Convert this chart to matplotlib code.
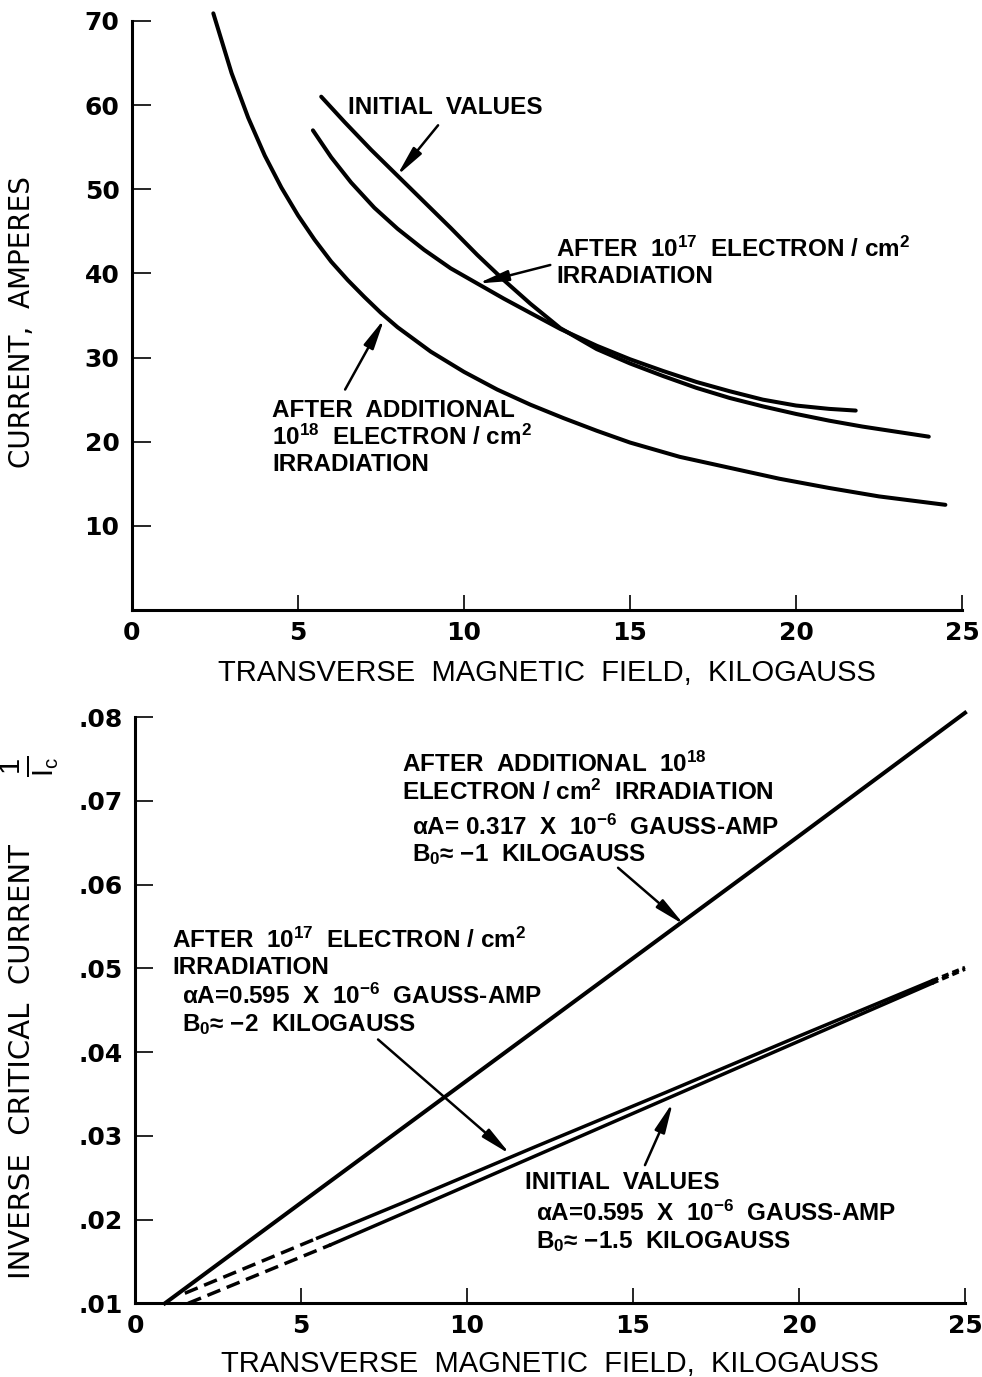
import matplotlib
matplotlib.use('Agg')
import matplotlib.pyplot as plt
from matplotlib import font_manager

# Шрифты: Liberation для надписей, жирный DejaVu для чисел на осях
LABEL_FONT = 'Liberation Sans'
plt.rcParams['font.family'] = [LABEL_FONT, 'DejaVu Sans']
plt.rcParams['mathtext.fontset'] = 'custom'
plt.rcParams['mathtext.rm'] = LABEL_FONT
plt.rcParams['mathtext.it'] = LABEL_FONT
plt.rcParams['mathtext.bf'] = LABEL_FONT + ':bold'
plt.rcParams['mathtext.default'] = 'regular'

# --- Верхний график: ток от поля ---
field_add18 = [2.45, 3.0, 3.5, 4.0, 4.5, 5.0, 5.5, 6.0, 6.5, 7.0, 7.5, 8.0, 9.0, 10.0, 11.0, 12.0,
               13.0, 14.0, 15.0, 16.5, 18.0, 19.5, 21.0, 22.5, 24.5]
current_add18 = [70.9, 63.8, 58.5, 54.0, 50.2, 46.9, 44.0, 41.4, 39.2, 37.2, 35.3, 33.6, 30.7, 28.3, 26.2, 24.4,
                 22.8, 21.3, 19.9, 18.2, 16.9, 15.6, 14.5, 13.5, 12.5]

field_init = [5.7, 6.4, 7.2, 8.0, 8.8, 9.6, 10.4, 11.2, 12.0, 12.9, 14.0, 15.0, 16.0, 17.0, 18.0, 19.0, 20.0, 21.0, 22.0, 23.0, 24.0]
current_init = [61.0, 58.0, 54.7, 51.6, 48.5, 45.4, 42.2, 39.2, 36.4, 33.5, 31.0, 29.3, 27.8, 26.4, 25.2, 24.2, 23.3, 22.5, 21.8, 21.2, 20.6]

field_e17 = [5.45, 6.0, 6.6, 7.3, 8.0, 8.8, 9.6, 10.4, 11.2, 12.0, 12.9, 14.0, 15.0, 16.0, 17.0, 18.0, 19.0, 20.0, 21.0, 21.8]
current_e17 = [57.0, 53.8, 50.8, 47.8, 45.3, 42.8, 40.6, 38.8, 37.0, 35.3, 33.4, 31.4, 29.8, 28.4, 27.1, 26.0, 25.0, 24.3, 23.9, 23.7]

top_xticks = [0, 5, 10, 15, 20, 25]
top_yticks = [10, 20, 30, 40, 50, 60, 70]

# --- Нижний график: обратный критический ток ---
inv_x_add18 = [0.9, 5.0, 10.0, 15.0, 20.0, 25.0]
inv_y_add18 = [0.0100, 0.0220, 0.0366, 0.0512, 0.0658, 0.0805]

inv_x_e17_dash = [1.5, 5.5]
inv_y_e17_dash = [0.0112, 0.0178]
inv_x_e17 = [5.5, 8.0, 12.0, 16.0, 20.0, 24.0]
inv_y_e17 = [0.0178, 0.0219, 0.0286, 0.0352, 0.0419, 0.0485]
inv_x_e17_tail = [24.0, 25.0]
inv_y_e17_tail = [0.0485, 0.0501]

inv_x_init_dash = [1.6, 5.9]
inv_y_init_dash = [0.0100, 0.0170]
inv_x_init = [5.9, 8.0, 12.0, 16.0, 20.0, 24.0]
inv_y_init = [0.0170, 0.0206, 0.0275, 0.0344, 0.0413, 0.0482]
inv_x_init_tail = [24.0, 25.0]
inv_y_init_tail = [0.0482, 0.0499]

bot_xticks = [0, 5, 10, 15, 20, 25]
bot_yticks = [0.01, 0.02, 0.03, 0.04, 0.05, 0.06, 0.07, 0.08]
bot_yticklabels = ['.01', '.02', '.03', '.04', '.05', '.06', '.07', '.08']

XLABEL = 'TRANSVERSE  MAGNETIC  FIELD,  KILOGAUSS'
TXT = dict(fontsize=17.5, fontweight='bold', va='center', ha='left', linespacing=1.15)
ARROW = dict(arrowstyle='-|>,head_length=1.8,head_width=0.32', color='black',
             lw=1.8, mutation_scale=10, shrinkA=0, shrinkB=0)
tick_font = dict(family=['DejaVu Sans'], weight='bold', size=18)


def style_axes(ax, ylen):
    for side in ('top', 'right'):
        ax.spines[side].set_visible(False)
    for side in ('left', 'bottom'):
        ax.spines[side].set_linewidth(2.2)
    ax.tick_params(axis='x', direction='in', length=11, width=1.2, pad=8)
    ax.tick_params(axis='y', direction='in', length=ylen, width=1.2, pad=9)
    for lab in ax.get_xticklabels() + ax.get_yticklabels():
        lab.set_fontproperties(font_manager.FontProperties(**tick_font))


fig = plt.figure(figsize=(9.82, 13.77), dpi=100)

# ---------------- верх ----------------
ax1 = fig.add_axes([0.1344, 0.557, 0.8452, 0.4278])
ax1.set_xlim(0, 25)
ax1.set_ylim(0, 70)
ax1.plot(field_add18, current_add18, color='black', lw=2.9, clip_on=False, solid_capstyle='round')
ax1.plot(field_init, current_init, color='black', lw=2.9, solid_capstyle='round')
ax1.plot(field_e17, current_e17, color='black', lw=2.9, solid_capstyle='round')
ax1.set_xticks(top_xticks)
ax1.set_xticklabels([str(v) for v in top_xticks])
ax1.set_yticks(top_yticks)
ax1.set_yticklabels([str(v) for v in top_yticks])
style_axes(ax1, 14)
ax1.set_xlabel(XLABEL, fontsize=21, labelpad=10)
fig.text(22 / 982, 1 - 322 / 1377, 'CURRENT,  AMPERES', family=['DejaVu Sans'], fontsize=20,
         rotation=90, ha='center', va='center')

ax1.text(6.5, 59.7, 'INITIAL  VALUES', **TXT)
ax1.annotate('', xy=(7.98, 51.6), xytext=(9.22, 57.6), arrowprops=ARROW)
ax1.text(12.77, 41.3, 'AFTER  10$^{17}$  ELECTRON / cm$^{2}$\nIRRADIATION', **TXT)
ax1.annotate('', xy=(10.42, 38.8), xytext=(12.6, 41.0), arrowprops=ARROW)
ax1.text(4.22, 20.5, 'AFTER  ADDITIONAL\n10$^{18}$  ELECTRON / cm$^{2}$\nIRRADIATION', **TXT)
ax1.annotate('', xy=(7.6, 34.6), xytext=(6.42, 26.2), arrowprops=ARROW)

# ---------------- низ ----------------
ax2 = fig.add_axes([0.1375, 0.0535, 0.8452, 0.4258])
ax2.set_xlim(0, 25)
ax2.set_ylim(0.01, 0.08)
ax2.plot(inv_x_add18, inv_y_add18, color='black', lw=2.9, clip_on=False)
dash = (0, (4, 2))
tail = (0, (2, 1.2))
ax2.plot(inv_x_e17_dash, inv_y_e17_dash, color='black', lw=2.5, linestyle=dash)
ax2.plot(inv_x_e17, inv_y_e17, color='black', lw=2.5)
ax2.plot(inv_x_e17_tail, inv_y_e17_tail, color='black', lw=2.5, linestyle=tail, clip_on=False)
ax2.plot(inv_x_init_dash, inv_y_init_dash, color='black', lw=2.5, linestyle=dash)
ax2.plot(inv_x_init, inv_y_init, color='black', lw=2.5)
ax2.plot(inv_x_init_tail, inv_y_init_tail, color='black', lw=2.5, linestyle=tail, clip_on=False)
ax2.set_xticks(bot_xticks)
ax2.set_xticklabels([str(v) for v in bot_xticks])
ax2.set_yticks(bot_yticks)
ax2.set_yticklabels(bot_yticklabels)
style_axes(ax2, 13)
ax2.set_xlabel(XLABEL, fontsize=21, labelpad=8)
fig.text(22 / 982, 1 - 1062 / 1377, 'INVERSE  CRITICAL  CURRENT', family=['DejaVu Sans'], fontsize=21,
         rotation=90, ha='center', va='center')
fig.text(30 / 982, 1 - 766 / 1377, '$\\frac{1}{I_c}$', fontsize=30,
         rotation=90, ha='center', va='center')

ax2.text(8.04, 0.0727, 'AFTER  ADDITIONAL  10$^{18}$\nELECTRON / cm$^{2}$  IRRADIATION', **TXT)
ax2.text(8.34, 0.0652, 'αA= 0.317  X  10$^{-6}$  GAUSS-AMP\nB$_{0}$≈ −1  KILOGAUSS', **TXT)
ax2.annotate('', xy=(16.54, 0.0552), xytext=(14.55, 0.0620), arrowprops=ARROW)

ax2.text(1.11, 0.0518, 'AFTER  10$^{17}$  ELECTRON / cm$^{2}$\nIRRADIATION', **TXT)
ax2.text(1.42, 0.0450, 'αA=0.595  X  10$^{-6}$  GAUSS-AMP\nB$_{0}$≈ −2  KILOGAUSS', **TXT)
ax2.annotate('', xy=(11.3, 0.0278), xytext=(7.32, 0.0415), arrowprops=ARROW)

ax2.text(11.75, 0.0244, 'INITIAL  VALUES', **TXT)
ax2.text(12.08, 0.0191, 'αA=0.595  X  10$^{-6}$  GAUSS-AMP\nB$_{0}$≈ −1.5  KILOGAUSS', **TXT)
ax2.annotate('', xy=(16.2, 0.0340), xytext=(15.36, 0.0265), arrowprops=ARROW)

fig.savefig('out.png', dpi=100, facecolor='white')
